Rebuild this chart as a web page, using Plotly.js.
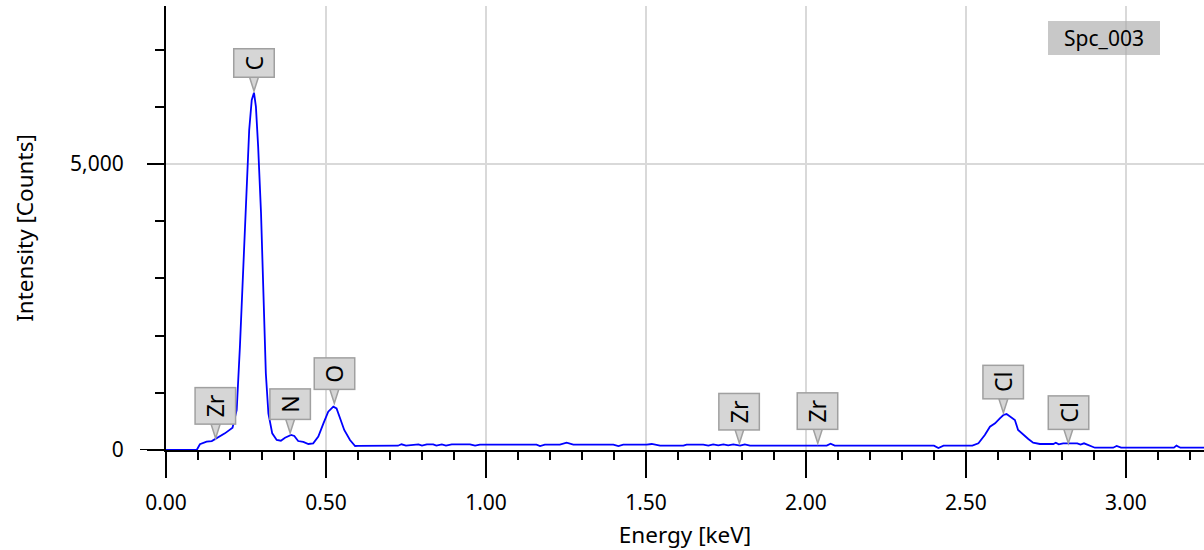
<!DOCTYPE html>
<html>
<head>
<meta charset="utf-8">
<script src="https://cdn.plot.ly/plotly-3.0.1.min.js"></script>
<style>
  html, body { margin: 0; padding: 0; background: #ffffff; }
  #chart { width: 1204px; height: 550px; }
</style>
</head>
<body>
<div id="chart"></div>
<script>
// ---- data ----
const energy = [
  0.000, 0.090, 0.096, 0.106, 0.127, 0.143, 0.158, 0.184, 0.208, 0.221,
  0.231, 0.242, 0.252, 0.260, 0.268, 0.275, 0.281, 0.288, 0.297, 0.304,
  0.312, 0.320, 0.332, 0.346, 0.359, 0.372, 0.391, 0.401, 0.413, 0.429,
  0.445, 0.460, 0.476, 0.492, 0.507, 0.523, 0.533, 0.544, 0.557, 0.575,
  0.591, 0.600, 0.725, 0.736, 0.750, 0.789, 0.800, 0.815, 0.835, 0.845,
  0.862, 0.875, 0.893, 0.950, 0.966, 0.981, 1.158, 1.169, 1.184, 1.231,
  1.252, 1.273, 1.398, 1.414, 1.429, 1.502, 1.518, 1.544, 1.617, 1.627,
  1.679, 1.695, 1.710, 1.726, 1.742, 1.757, 1.773, 1.794, 1.809, 1.825,
  1.919, 2.065, 2.077, 2.090, 2.400, 2.414, 2.430, 2.520, 2.539, 2.559,
  2.575, 2.591, 2.606, 2.617, 2.627, 2.640, 2.653, 2.663, 2.679, 2.695,
  2.710, 2.731, 2.773, 2.781, 2.790, 2.804, 2.848, 2.858, 2.869, 2.880,
  2.893, 2.903, 2.960, 2.971, 2.985, 3.150, 3.158, 3.170, 3.244
];
const counts = [
  0, 0, 0, 100, 145, 157, 204, 291, 390, 700,
  1806, 3264, 4720, 5594, 6119, 6247, 6002, 5303, 4138, 2680,
  1341, 641, 291, 175, 163, 215, 262, 245, 157, 140,
  105, 117, 233, 466, 670, 757, 728, 554, 350, 175,
  70, 72, 75, 100, 76, 99, 76, 99, 99, 76,
  99, 76, 99, 99, 76, 93, 93, 70, 93, 93,
  128, 93, 93, 70, 93, 93, 105, 76, 76, 93,
  93, 76, 99, 82, 99, 82, 99, 76, 99, 76,
  76, 76, 110, 76, 76, 35, 76, 76, 117, 262,
  408, 466, 554, 612, 629, 583, 524, 350, 262, 192,
  128, 105, 105, 128, 100, 117, 117, 95, 117, 90,
  58, 40, 40, 70, 40, 40, 76, 40, 40
];

const peakLabels = ['Zr', 'C', 'N', 'O', 'Zr', 'Zr', 'Cl', 'Cl'];
const peakEnergy = [0.155, 0.275, 0.388, 0.526, 1.792, 2.037, 2.617, 2.820];
const peakCounts = [205, 6276, 297, 816, 117, 117, 652, 117];

const spectrumName = 'Spc_003';
const xTitle = 'Energy [keV]';
const yTitle = 'Intensity [Counts]';
const xRange = [0, 3.244];
const yRange = [0, 7762];

// ---- styling ----
const FONT = '"Noto Sans", "Open Sans", sans-serif';
const BOX_FILL = '#d6d6d6';
const BOX_LINE = '#a0a0a0';

const trace = {
  type: 'scatter',
  mode: 'lines',
  x: energy,
  y: counts,
  name: spectrumName,
  line: { color: '#0000ff', width: 1.8 },
  hoverinfo: 'x+y'
};

const labelAnnotations = peakLabels.map((t, i) => ({
  x: peakEnergy[i], y: peakCounts[i], xref: 'x', yref: 'y',
  text: t, showarrow: false, textangle: -90,
  xanchor: 'center', yanchor: 'bottom', yshift: 13,
  bgcolor: BOX_FILL, bordercolor: BOX_LINE, borderwidth: 1.5, borderpad: 6,
  height: 27,
  font: { family: FONT, size: 23, color: '#000000' }
}));

const pointerShapes = peakEnergy.map((e, i) => ({
  type: 'path', xref: 'x', yref: 'y',
  xsizemode: 'pixel', ysizemode: 'pixel',
  xanchor: e, yanchor: peakCounts[i],
  path: 'M0,0L-4.5,14L4.5,14Z',
  fillcolor: BOX_FILL, line: { color: BOX_LINE, width: 1.5 },
  layer: 'above'
}));

// extension of the x axis line to the left of the y axis (crosshair style)
const axisExtension = {
  type: 'line', xref: 'paper', yref: 'y',
  xsizemode: 'pixel', xanchor: 0, x0: -26, x1: 0,
  y0: 0, y1: 0,
  line: { color: '#000000', width: 2 },
  layer: 'above'
};

const nameAnnotation = {
  xref: 'paper', yref: 'paper', x: 0.9037, y: 0.928,
  xanchor: 'center', yanchor: 'middle',
  text: spectrumName, showarrow: false,
  bgcolor: 'rgba(170,170,170,0.65)', borderwidth: 0, borderpad: 4,
  width: 104, height: 26,
  font: { family: FONT, size: 21, color: '#000000' }
};

const layout = {
  width: 1204, height: 550,
  margin: { l: 166, r: 0, t: 6, b: 100, pad: 0 },
  paper_bgcolor: '#ffffff', plot_bgcolor: '#ffffff',
  showlegend: false,
  font: { family: FONT, size: 21, color: '#000000' },
  xaxis: {
    range: xRange, tick0: 0, dtick: 0.5, tickformat: '.2f',
    ticks: 'outside', ticklen: 26, tickwidth: 2, tickcolor: '#000000',
    showline: true, linecolor: '#000000', linewidth: 2,
    showgrid: true, gridcolor: '#d9d9d9', gridwidth: 2,
    zeroline: false, layer: 'below traces',
    ticklabelstandoff: 7,
    tickfont: { family: FONT, size: 21, color: '#000000' },
    minor: { tick0: 0, dtick: 0.1, ticks: 'outside', ticklen: 8, tickwidth: 2, tickcolor: '#000000', showgrid: false },
    title: { text: xTitle, standoff: 12, font: { family: FONT, size: 22.5, color: '#000000' } }
  },
  yaxis: {
    range: yRange, tick0: 0, dtick: 5000, tickformat: ',d',
    ticks: 'outside', ticklen: 17, tickwidth: 2, tickcolor: '#000000',
    showline: true, linecolor: '#000000', linewidth: 2,
    showgrid: true, gridcolor: '#d9d9d9', gridwidth: 2,
    zeroline: false, layer: 'below traces',
    ticklabelstandoff: 19,
    tickfont: { family: FONT, size: 21, color: '#000000' },
    minor: { tick0: 0, dtick: 1000, ticks: 'outside', ticklen: 9, tickwidth: 2, tickcolor: '#000000', showgrid: false },
    title: { text: yTitle, standoff: 30, font: { family: FONT, size: 22.5, color: '#000000' } }
  },
  shapes: pointerShapes.concat([axisExtension]),
  annotations: labelAnnotations.concat([nameAnnotation])
};

Plotly.newPlot('chart', [trace], layout, { displayModeBar: false, staticPlot: false });
</script>
</body>
</html>
